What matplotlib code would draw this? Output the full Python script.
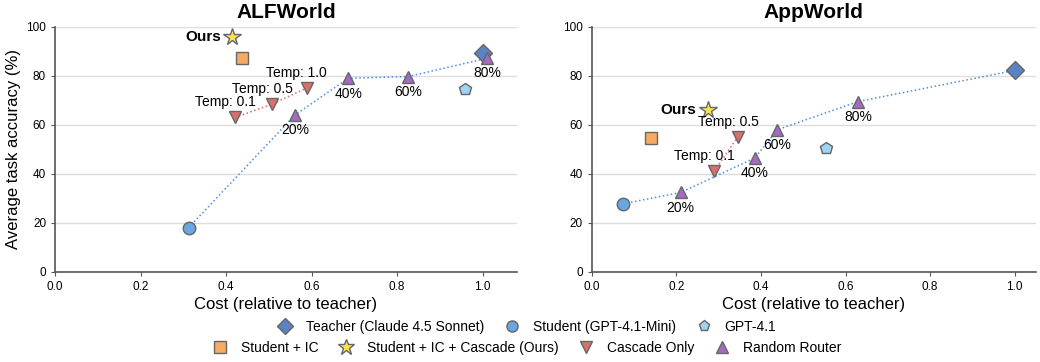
import numpy as np
import matplotlib.pyplot as plt
from matplotlib.lines import Line2D

plt.rcParams['font.family'] = ['Liberation Sans', 'DejaVu Sans']

# ALFWorld (cost relative to teacher, accuracy %)
alf_teacher = (1.00, 89.5)
alf_student = (0.312, 18.0)
alf_gpt41 = (0.958, 74.7)
alf_ic = (0.436, 87.2)
alf_ours = (0.414, 96.0)
alf_temp_labels = ["Temp: 0.1", "Temp: 0.5", "Temp: 1.0"]
alf_cascade_x = [0.421, 0.507, 0.588]
alf_cascade_y = [63.0, 68.4, 75.0]
alf_rr_labels = ["20%", "40%", "60%", "80%"]
alf_rr_x = [0.561, 0.686, 0.826, 1.011]
alf_rr_y = [64.0, 79.0, 79.7, 87.2]

# AppWorld
app_teacher = (1.00, 82.2)
app_student = (0.074, 27.8)
app_gpt41 = (0.555, 50.7)
app_ic = (0.139, 54.8)
app_ours = (0.274, 66.0)
app_temp_labels = ["Temp: 0.1", "Temp: 0.5"]
app_cascade_x = [0.29, 0.345]
app_cascade_y = [41.2, 55.0]
app_rr_labels = ["20%", "40%", "60%", "80%"]
app_rr_x = [0.21, 0.385, 0.439, 0.63]
app_rr_y = [32.4, 46.4, 58.0, 69.5]

c_teacher = "#5b82c2"
c_student = "#6aa6e0"
c_gpt41 = "#9fd2f4"
c_ic = "#f6aa62"
c_ours = "#f7e34f"
c_cascade = "#d9706b"
c_rr = "#a46bc3"
edge = "#666666"
ms = 9


def draw(ax, title, teacher, student, gpt41, ic, ours, temp_labels, cx, cy,
         rr_labels, rx, ry, xmax):
    # dotted lines
    lx = [student[0]] + rx + [teacher[0]]
    ly = [student[1]] + ry + [teacher[1]]
    ax.plot(lx, ly, ls=':', color="#4a90e2", lw=1.1, zorder=2)
    ax.plot(cx, cy, ls=':', color="#e06a6a", lw=1.1, zorder=2)

    kw = dict(ls='none', mec=edge, mew=1.0, zorder=3)
    ax.plot(*teacher, marker='D', ms=ms, mfc=c_teacher, **kw)
    ax.plot(*student, marker='o', ms=ms, mfc=c_student, **kw)
    ax.plot(*gpt41, marker='p', ms=ms, mfc=c_gpt41, **kw)
    ax.plot(*ic, marker='s', ms=ms - 0.5, mfc=c_ic, **kw)
    ax.plot(*ours, marker='*', ms=ms + 4, mfc=c_ours, **kw)
    ax.plot(cx, cy, marker='v', ms=ms, mfc=c_cascade, **kw)
    ax.plot(rx, ry, marker='^', ms=ms, mfc=c_rr, **kw)

    for lab, x, y in zip(temp_labels, cx, cy):
        ax.annotate(lab, (x, y), xytext=(-7, 11), textcoords='offset points',
                    ha='center', va='center', fontsize=10)
    for lab, x, y in zip(rr_labels, rx, ry):
        ax.annotate(lab, (x, y), xytext=(0, -11), textcoords='offset points',
                    ha='center', va='center', fontsize=10)
    ax.annotate("Ours", ours, xytext=(-8, 0), textcoords='offset points',
                ha='right', va='center', fontsize=11, fontweight='bold')

    ax.set_title(title, fontsize=15, fontweight='bold', pad=6)
    ax.set_xlim(0, xmax)
    ax.set_ylim(0, 100)
    ax.set_xticks(np.arange(0, 1.01, 0.2))
    ax.set_yticks(np.arange(0, 101, 20))
    ax.tick_params(labelsize=8.5, length=3, color="#555555")
    ax.yaxis.grid(True, color="#dddddd", lw=1)
    ax.set_axisbelow(True)
    ax.spines['top'].set_visible(False)
    ax.spines['right'].set_visible(False)
    ax.spines['left'].set_color("#555555")
    ax.spines['bottom'].set_color("#555555")
    ax.spines['left'].set_linewidth(1.2)
    ax.spines['bottom'].set_linewidth(1.2)
    ax.set_xlabel("Cost (relative to teacher)", fontsize=12, labelpad=3)


fig = plt.figure(figsize=(10.4, 3.62), dpi=100)
ax1 = fig.add_axes([0.053, 0.249, 0.444, 0.677])
ax2 = fig.add_axes([0.569, 0.249, 0.427, 0.677])

draw(ax1, "ALFWorld", alf_teacher, alf_student, alf_gpt41, alf_ic, alf_ours,
     alf_temp_labels, alf_cascade_x, alf_cascade_y,
     alf_rr_labels, alf_rr_x, alf_rr_y, 1.08)
draw(ax2, "AppWorld", app_teacher, app_student, app_gpt41, app_ic, app_ours,
     app_temp_labels, app_cascade_x, app_cascade_y,
     app_rr_labels, app_rr_x, app_rr_y, 1.05)
ax1.set_ylabel("Average task accuracy (%)", fontsize=12, labelpad=4)


def handle(marker, color, size=ms - 1):
    return Line2D([], [], ls='none', marker=marker, ms=size, mfc=color,
                  mec=edge, mew=1.0)


row1 = [handle('D', c_teacher), handle('o', c_student), handle('p', c_gpt41)]
row1_labels = ["Teacher (Claude 4.5 Sonnet)", "Student (GPT-4.1-Mini)", "GPT-4.1"]
row2 = [handle('s', c_ic), handle('*', c_ours, ms + 3), handle('v', c_cascade),
        handle('^', c_rr)]
row2_labels = ["Student + IC", "Student + IC + Cascade (Ours)", "Cascade Only",
               "Random Router"]

# two centred legend rows
leg_kw = dict(frameon=False, fontsize=10, handletextpad=1.0, columnspacing=1.5,
              borderaxespad=0, handlelength=1.0)
fig.legend(row1, row1_labels, loc='center', bbox_to_anchor=(0.507, 0.097),
           ncol=3, **leg_kw)
fig.legend(row2, row2_labels, loc='center', bbox_to_anchor=(0.507, 0.038),
           ncol=4, **leg_kw)

fig.savefig("out.png", dpi=100)
